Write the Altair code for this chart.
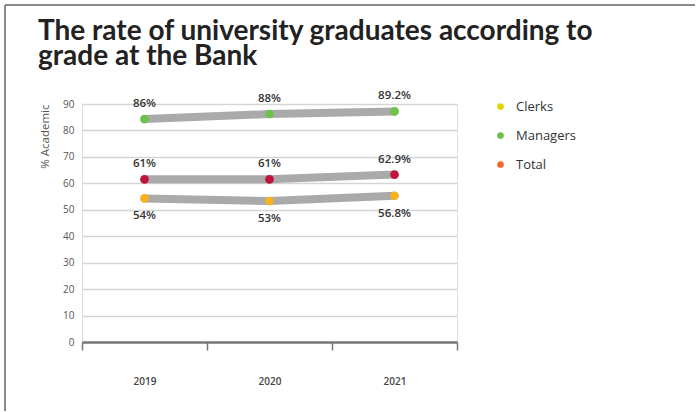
import altair as alt
import pandas as pd

years = ["2019", "2020", "2021"]
series = ["Clerks", "Managers", "Total"]
clerks = [54.3, 53.3, 55.3]
managers = [84.3, 86.2, 87.2]
total = [61.5, 61.5, 63.3]
clerks_labels = ["54%", "53%", "56.8%"]
managers_labels = ["86%", "88%", "89.2%"]
total_labels = ["61%", "61%", "62.9%"]
point_colors = ["#f9b21b", "#6cc24a", "#c0143c"]
legend_colors = ["#e2d300", "#6cbf4a", "#f06a2b"]
label_side = ["below", "above", "above"]
y_ticks = [0, 10, 20, 30, 40, 50, 60, 70, 80, 90]
title_lines = ["The rate of university graduates according to", "grade at the Bank"]

rows = []
for s, vals, labs, col, side in zip(series, [clerks, managers, total],
                                    [clerks_labels, managers_labels, total_labels],
                                    point_colors, label_side):
    for y, v, l in zip(years, vals, labs):
        rows.append({"year": y, "series": s, "value": v, "label": l,
                     "pcolor": col, "side": side})
df = pd.DataFrame(rows)

FONT = "Open Sans"
PLOT_W, PLOT_H = 375, 238
LEFT, TOP = 82, 104

x_enc = alt.X("year:N", scale=alt.Scale(type="band", domain=years, paddingInner=0, paddingOuter=0),
              axis=alt.Axis(title=None, labelAngle=0, grid=False, tickBand="extent",
                            domainColor="#777777", domainWidth=2.5, tickColor="#777777",
                            tickWidth=1.5, tickSize=8, labelPadding=26, labelFontSize=10,
                            labelFontWeight=600, labelColor="#444444", labelFont=FONT))
y_enc = alt.Y("value:Q", scale=alt.Scale(domain=[0, 90], nice=False),
              axis=alt.Axis(values=y_ticks, grid=True, gridColor="#d5d5d5", gridWidth=1.5,
                            domain=False, ticks=False, labelPadding=8, labelFontSize=10,
                            labelOverlap=False,
                            labelColor="#555555", labelFont=FONT,
                            title="% Academic", titleFontSize=11.5, titleFontWeight="normal",
                            titleColor="#555555", titleFont=FONT, titleAnchor="end",
                            titlePadding=12))

base = alt.Chart(df)

lines = base.mark_line(color="#aaaaaa", strokeWidth=8, strokeCap="round").encode(
    x=x_enc, y=y_enc, detail="series:N")

points = base.mark_circle(size=75, opacity=1).encode(
    x=x_enc, y=y_enc, fill=alt.Fill("pcolor:N", scale=None))

legend_layer = base.mark_circle(size=45, opacity=0).encode(
    x=x_enc, y=y_enc,
    color=alt.Color("series:N", scale=alt.Scale(domain=series, range=legend_colors),
                    legend=alt.Legend(title=None, orient="none", legendX=412, legendY=-4,
                                      symbolType="circle", symbolSize=45, symbolOpacity=1,
                                      symbolStrokeWidth=0,
                                      labelFontSize=13, labelColor="#333333", labelFont=FONT,
                                      rowPadding=15, labelOffset=9)))

above = base.transform_filter(alt.datum.side == "above").mark_text(
    dy=-15, fontSize=11.5, fontWeight=600, color="#333333", font=FONT).encode(
    x=x_enc, y=y_enc, text="label:N")
below = base.transform_filter(alt.datum.side == "below").mark_text(
    dy=18, fontSize=11.5, fontWeight=600, color="#333333", font=FONT).encode(
    x=x_enc, y=y_enc, text="label:N")

frame_data = alt.Data(values=[{}])
frame_top = alt.Chart(frame_data).mark_rule(color="#8a8a8a", strokeWidth=2).encode(
    x=alt.value(5 - LEFT), x2=alt.value(695 - LEFT), y=alt.value(5 - TOP))
frame_left = alt.Chart(frame_data).mark_rule(color="#8a8a8a", strokeWidth=2).encode(
    x=alt.value(5 - LEFT), y=alt.value(5 - TOP), y2=alt.value(411 - TOP))

chart = alt.layer(frame_top, frame_left, lines, legend_layer, points, above, below).properties(
    width=PLOT_W, height=PLOT_H,
    padding={"left": 4, "top": 4, "right": 0, "bottom": 0},
    title=alt.TitleParams(text=title_lines, anchor="start", frame="group", dx=-44, dy=71,
                          fontSize=28, lineHeight=25, font="Lato", fontWeight="bold",
                          color="#222222"),
).configure_view(stroke=None, strokeWidth=0).configure(background="white")

chart.save("out.html", embed_options={"renderer": "svg", "actions": False})
